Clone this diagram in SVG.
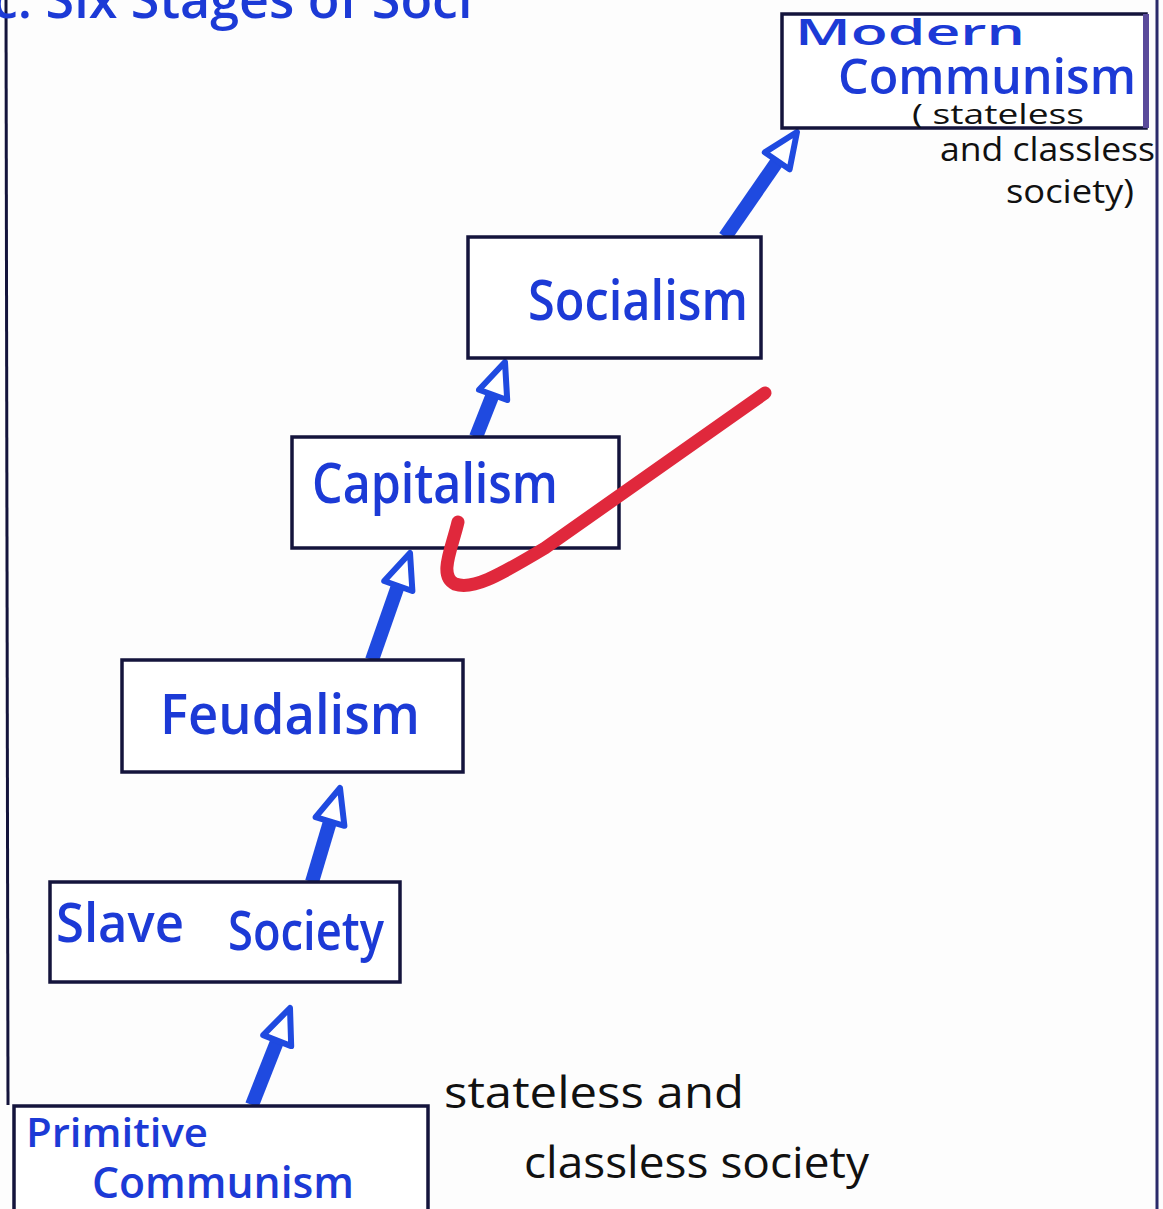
<svg xmlns="http://www.w3.org/2000/svg" width="1163" height="1209" viewBox="0 0 1163 1209">
<style>
.box{fill:#fff;stroke:#14143c;stroke-width:3.5}
.lbl{fill:#1c3ad6;font-family:"Open Sans","DejaVu Sans",sans-serif;font-weight:600}
.note{fill:#111;font-family:"Open Sans","DejaVu Sans",sans-serif}
.shaft{stroke:#1f4ae0;stroke-width:14;stroke-linecap:butt;fill:none}
.head{fill:#fff;stroke:#1f4ae0;stroke-width:6;stroke-linejoin:round}
</style>
<rect width="1163" height="1209" fill="#fdfdfd"/>
<line x1="6" y1="0" x2="8" y2="1105" stroke="#14143c" stroke-width="3"/>
<line x1="1157" y1="0" x2="1157" y2="1209" stroke="#2a2a6a" stroke-width="3"/>
<text class="lbl" x="-8" y="18" font-size="52">c. Six   Stages   of   Soci</text>

<g id="connectors">
<g id="a1"><line class="shaft" x1="252" y1="1105" x2="280" y2="1034"/><polygon class="head" points="290,1008 291.2,1046.1 263.2,1035.1"/></g>
<g id="a2"><line class="shaft" x1="312" y1="882" x2="332" y2="815"/><polygon class="head" points="340,788 344.4,825.8 315.6,817.2"/></g>
<g id="a3"><line class="shaft" x1="372" y1="660" x2="400" y2="580"/><polygon class="head" points="410,553 412.4,591 384.2,581"/></g>
<g id="a4"><line class="shaft" x1="476" y1="437" x2="495" y2="389"/><polygon class="head" points="505,362 507.2,400 479,389.8"/></g>
<g id="a5"><line class="shaft" x1="725" y1="237" x2="781" y2="156"/><polygon class="head" points="797,132 789.6,169.4 764.8,152.4"/></g>
</g>

<g id="modern">
<rect class="box" x="782" y="14" width="364" height="114"/>
<line x1="1146" y1="14" x2="1146" y2="128" stroke="#5a4a9a" stroke-width="6"/>
<text class="lbl" x="795" y="45" font-size="36" textLength="230" lengthAdjust="spacingAndGlyphs">Modern</text>
<text class="lbl" x="838" y="94" font-size="48" textLength="298" lengthAdjust="spacingAndGlyphs">Communism</text>
</g>
<g id="modern-note">
<text class="note" x="912" y="124" font-size="28" textLength="172" lengthAdjust="spacingAndGlyphs">( stateless</text>
<text class="note" x="940" y="161" font-size="32" textLength="215" lengthAdjust="spacingAndGlyphs">and classless</text>
<text class="note" x="1006" y="203" font-size="32" textLength="128" lengthAdjust="spacingAndGlyphs">society)</text>
</g>

<g id="socialism">
<rect class="box" x="468" y="237" width="293" height="121"/>
<text class="lbl" x="528" y="320" font-size="56" textLength="220" lengthAdjust="spacingAndGlyphs">Socialism</text>
</g>

<g id="capitalism">
<rect class="box" x="292" y="437" width="327" height="111"/>
<text class="lbl" x="312" y="503" font-size="56" textLength="246" lengthAdjust="spacingAndGlyphs">Capitalism</text>
</g>

<g id="feudalism">
<rect class="box" x="122" y="660" width="341" height="112"/>
<text class="lbl" x="160" y="734" font-size="56" textLength="260" lengthAdjust="spacingAndGlyphs">Feudalism</text>
</g>

<g id="slave">
<rect class="box" x="50" y="882" width="350" height="100"/>
<text class="lbl" x="56" y="942" font-size="54" textLength="128" lengthAdjust="spacingAndGlyphs">Slave</text>
<text class="lbl" x="228" y="950" font-size="54" textLength="156" lengthAdjust="spacingAndGlyphs">Society</text>
</g>

<g id="primitive">
<rect class="box" x="14" y="1106" width="414" height="110"/>
<text class="lbl" x="26" y="1147" font-size="40" textLength="182" lengthAdjust="spacingAndGlyphs">Primitive</text>
<text class="lbl" x="92" y="1198" font-size="44" textLength="262" lengthAdjust="spacingAndGlyphs">Communism</text>
</g>
<g id="primitive-note">
<text class="note" x="444" y="1108" font-size="44" textLength="300" lengthAdjust="spacingAndGlyphs">stateless  and</text>
<text class="note" x="524" y="1178" font-size="44" textLength="345" lengthAdjust="spacingAndGlyphs">classless  society</text>
</g>

<path d="M458,522 C452,548 438,576 455,584 C472,590 495,578 545,548 L765,393" fill="none" stroke="#e0283c" stroke-width="13" stroke-linecap="round" stroke-linejoin="round"/>
</svg>
